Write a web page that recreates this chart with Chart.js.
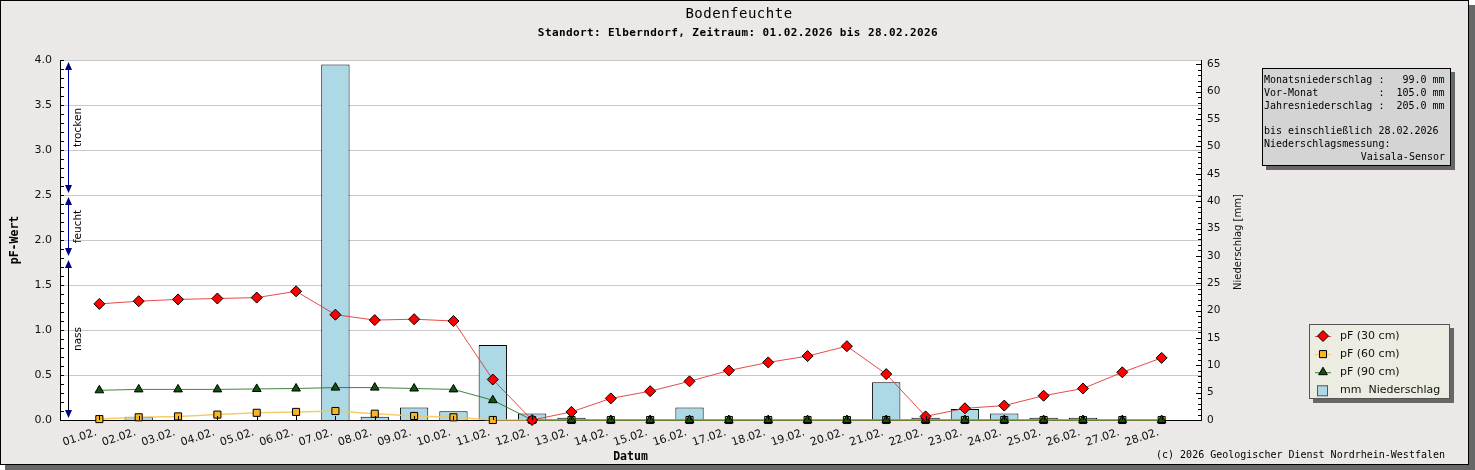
<!DOCTYPE html>
<html lang="de">
<head>
<meta charset="utf-8">
<title>Bodenfeuchte</title>
<script src="https://cdn.jsdelivr.net/npm/chart.js@4.4.1/dist/chart.umd.min.js"></script>
<style>
    html, body { margin: 0; padding: 0; background: #ffffff; }
    canvas { display: block; }
</style>
</head>
<body>
<canvas id="myChart" width="1475" height="470"></canvas>
<script>
//Daten
const tage = ['01.02.', '02.02.', '03.02.', '04.02.', '05.02.', '06.02.', '07.02.', '08.02.', '09.02.', '10.02.',
    '11.02.', '12.02.', '13.02.', '14.02.', '15.02.', '16.02.', '17.02.', '18.02.', '19.02.', '20.02.',
    '21.02.', '22.02.', '23.02.', '24.02.', '25.02.', '26.02.', '27.02.', '28.02.'];
const pf30 = [1.29, 1.32, 1.34, 1.35, 1.36, 1.43, 1.17, 1.11, 1.12, 1.10, 0.45, 0.00, 0.09, 0.24, 0.32, 0.43, 0.55, 0.64,
    0.71, 0.82, 0.51, 0.04, 0.13, 0.16, 0.27, 0.35, 0.53, 0.69];
const pf60 = [0.01, 0.03, 0.04, 0.06, 0.08, 0.09, 0.10, 0.07, 0.045, 0.03, 0.00, 0, 0, 0, 0, 0, 0, 0,
    0, 0, 0, 0, 0, 0, 0, 0, 0, 0];
const pf90 = [0.33, 0.34, 0.34, 0.34, 0.345, 0.35, 0.36, 0.36, 0.35, 0.34, 0.22, 0, 0, 0, 0, 0, 0, 0,
    0, 0, 0, 0, 0, 0, 0, 0, 0, 0];
const niederschlag = [0, 0.6, 0, 0, 0, 0, 65.0, 0.6, 2.3, 1.6, 13.7, 1.2, 0.4, 0, 0, 2.3, 0, 0,
    0, 0, 6.9, 0.4, 2.0, 1.2, 0.4, 0.4, 0, 0];
const pfTicks = [0, 0.5, 1.0, 1.5, 2.0, 2.5, 3.0, 3.5, 4.0];
const mmTicks = [0, 5, 10, 15, 20, 25, 30, 35, 40, 45, 50, 55, 60, 65];
const pfBereiche = [
    { name: 'trocken', von: 2.5, bis: 4.0, farbe: '#0000a8' },
    { name: 'feucht', von: 1.8, bis: 2.5, farbe: '#0000a8' },
    { name: 'nass', von: 0.0, bis: 1.8, farbe: '#000000' }
];
const infoZeilen = [
    'Monatsniederschlag :   99.0 mm',
    'Vor-Monat          :  105.0 mm',
    'Jahresniederschlag :  205.0 mm',
    '',
    'bis einschließlich 28.02.2026',
    'Niederschlagsmessung:'
];
const infoSensor = 'Vaisala-Sensor';
const titel = 'Bodenfeuchte';
const untertitel = 'Standort: Elberndorf, Zeitraum: 01.02.2026 bis 28.02.2026';
const copyright = '(c) 2026 Geologischer Dienst Nordrhein-Westfalen';

const mono = '"DejaVu Sans Mono", monospace';
Chart.defaults.font.family = '"DejaVu Sans", sans-serif';
Chart.defaults.color = '#111';

function punkte(werte) {
    return werte.map((w, i) => ({ x: i + 1, y: w }));
}

//Rahmen, Texte, Legende usw.
const rahmenPlugin = {
    id: 'rahmen',
    beforeDraw(chart) {
        const c = chart.ctx;
        const a = chart.chartArea;
        c.save();
        c.fillStyle = '#ffffff';
        c.fillRect(0, 0, chart.width, chart.height);
        c.fillStyle = '#676767';
        c.fillRect(5, 5, chart.width - 5, chart.height - 5);
        c.fillStyle = '#ebe8e7';
        c.fillRect(0, 0, 1469, 465);
        c.strokeStyle = '#000';
        c.lineWidth = 1;
        c.strokeRect(0.5, 0.5, 1468, 464);
        c.fillStyle = '#ffffff';
        c.fillRect(a.left, a.top, a.right - a.left, a.bottom - a.top);
        c.restore();
    },
    afterDraw(chart) {
        const c = chart.ctx;
        const a = chart.chartArea;
        const y = chart.scales.y;
        const y2 = chart.scales.y2;
        const x = chart.scales.x;
        c.save();

        // Titel
        c.fillStyle = '#000';
        c.textAlign = 'center';
        c.textBaseline = 'middle';
        c.font = '14px ' + mono;
        c.letterSpacing = '0.5px';
        c.fillText(titel, 739, 14);
        c.font = 'bold 11px ' + mono;
        c.letterSpacing = '0.4px';
        c.fillText(untertitel, 738, 33);
        c.letterSpacing = '0px';

        // Copyright
        c.font = '10px ' + mono;
        c.textAlign = 'right';
        c.fillText(copyright, 1445, 455);

        // kleine Striche an den Achsen
        c.strokeStyle = '#000';
        c.lineWidth = 1;
        c.beginPath();
        for (let i = 0; i <= 40; i++) {
            const py = Math.round(y.getPixelForValue(i / 10)) + 0.5;
            c.moveTo(a.left, py);
            c.lineTo(a.left + 4, py);
        }
        for (let i = 0; i <= 65; i++) {
            const py = Math.round(y2.getPixelForValue(i)) + 0.5;
            c.moveTo(a.right, py);
            c.lineTo(a.right - (i % 5 === 0 ? 5 : 3), py);
        }
        for (let i = 1; i <= tage.length; i++) {
            const px = Math.round(x.getPixelForValue(i)) + 0.5;
            c.moveTo(px, a.bottom);
            c.lineTo(px, a.bottom - 4);
        }
        c.stroke();

        // pF-Bereiche (trocken / feucht / nass)
        const ax = 68.5;
        pfBereiche.forEach(b => {
            const yo = y.getPixelForValue(b.bis) + 2;
            const yu = y.getPixelForValue(b.von) - 2;
            c.strokeStyle = b.farbe;
            c.beginPath();
            c.moveTo(ax, yo + 4);
            c.lineTo(ax, yu - 4);
            c.stroke();
            c.fillStyle = '#000080';
            c.beginPath();
            c.moveTo(ax, yo);
            c.lineTo(ax - 3.5, yo + 8);
            c.lineTo(ax + 3.5, yo + 8);
            c.closePath();
            c.fill();
            c.beginPath();
            c.moveTo(ax, yu);
            c.lineTo(ax - 3.5, yu - 8);
            c.lineTo(ax + 3.5, yu - 8);
            c.closePath();
            c.fill();
            c.save();
            c.translate(80.5, (yo + yu) / 2);
            c.rotate(-Math.PI / 2);
            c.fillStyle = '#000';
            c.font = '10.5px "DejaVu Sans"';
            c.textAlign = 'center';
            c.textBaseline = 'alphabetic';
            c.fillText(b.name, 0, 0);
            c.restore();
        });

        // Titel rechte Achse
        c.save();
        c.translate(1238, 242);
        c.rotate(-Math.PI / 2);
        c.fillStyle = '#111';
        c.font = '10px "DejaVu Sans"';
        c.textAlign = 'center';
        c.textBaseline = 'middle';
        c.fillText('Niederschlag [mm]', 0, 0);
        c.restore();

        // Infokasten
        c.fillStyle = '#676767';
        c.fillRect(1266, 72, 189, 98);
        c.fillStyle = '#d4d4d4';
        c.fillRect(1262, 68, 189, 98);
        c.strokeStyle = '#000';
        c.strokeRect(1262.5, 68.5, 188, 97);
        c.fillStyle = '#000';
        c.font = '10px ' + mono;
        c.textAlign = 'left';
        c.textBaseline = 'middle';
        infoZeilen.forEach((z, i) => c.fillText(z, 1264, 80.5 + i * 12.8));
        c.textAlign = 'right';
        c.fillText(infoSensor, 1445, 80.5 + 6 * 12.8);

        // Legende
        c.fillStyle = '#676767';
        c.fillRect(1313, 328, 141, 75);
        c.fillStyle = '#edece2';
        c.fillRect(1309, 324, 141, 75);
        c.strokeStyle = '#555';
        c.strokeRect(1309.5, 324.5, 140, 74);
        c.font = '11px "DejaVu Sans"';
        c.textAlign = 'left';
        c.textBaseline = 'middle';
        chart.data.datasets.forEach((ds, r) => {
            const ly = 336 + r * 18.1;
            if (ds.type === 'line') {
                c.strokeStyle = ds.borderColor;
                c.lineWidth = 1;
                c.beginPath();
                c.moveTo(1315, ly + 0.5);
                c.lineTo(1331, ly + 0.5);
                c.stroke();
                c.strokeStyle = '#000';
                c.fillStyle = ds.pointBackgroundColor;
                Chart.helpers.drawPoint(c, { pointStyle: ds.pointStyle, radius: ds.pointRadius, borderWidth: 1 }, 1323, ly);
            } else {
                c.fillStyle = ds.backgroundColor;
                c.fillRect(1317, ly - 5, 11, 11);
                c.strokeStyle = '#555';
                c.strokeRect(1317.5, ly - 4.5, 10, 10);
            }
            c.fillStyle = '#111';
            c.fillText(ds.label, 1340, ly);
        });
        c.restore();
    }
};

const ctx = document.getElementById('myChart').getContext('2d');
const myChart = new Chart(ctx, {
    type: 'bar',
    data: {
        datasets: [
            {
                type: 'line',
                label: 'pF (30 cm)',
                data: punkte(pf30),
                yAxisID: 'y',
                borderColor: 'rgba(225,45,45,0.85)',
                borderWidth: 1,
                pointStyle: 'rectRot',
                pointRadius: 5.5,
                pointBackgroundColor: '#ff0000',
                pointBorderColor: '#000',
                pointBorderWidth: 1,
                tension: 0,
                clip: false,
                order: 1
            },
            {
                type: 'line',
                label: 'pF (60 cm)',
                data: punkte(pf60),
                yAxisID: 'y',
                borderColor: 'rgba(245,200,90,0.9)',
                borderWidth: 1.5,
                pointStyle: 'rect',
                pointRadius: 5,
                pointBackgroundColor: '#f8b526',
                pointBorderColor: '#000',
                pointBorderWidth: 1,
                tension: 0,
                clip: false,
                order: 3
            },
            {
                type: 'line',
                label: 'pF (90 cm)',
                data: punkte(pf90),
                yAxisID: 'y',
                borderColor: 'rgba(30,110,30,0.85)',
                borderWidth: 1,
                pointStyle: 'triangle',
                pointRadius: 5,
                pointBackgroundColor: '#0c560c',
                pointBorderColor: '#000',
                pointBorderWidth: 1,
                tension: 0,
                clip: false,
                order: 2
            },
            {
                type: 'bar',
                label: 'mm  Niederschlag',
                data: punkte(niederschlag),
                yAxisID: 'y2',
                backgroundColor: '#add8e6',
                borderColor: '#000',
                borderWidth: 1,
                order: 10
            }
        ]
    },
    options: {
        responsive: false,
        animation: false,
        devicePixelRatio: 1,
        layout: {
            padding: { top: 60, left: 0, right: 214, bottom: 0 }
        },
        plugins: {
            legend: { display: false },
            tooltip: { enabled: false }
        },
        scales: {
            x: {
                type: 'linear',
                min: 0,
                max: 29,
                offset: false,
                grid: { display: false, drawTicks: false },
                border: { color: '#000', width: 1 },
                ticks: {
                    stepSize: 1,
                    autoSkip: false,
                    maxRotation: 18,
                    minRotation: 18,
                    padding: 6,
                    labelOffset: -3,
                    font: { size: 11 },
                    color: '#111',
                    callback: v => tage[v - 1] || ''
                },
                title: {
                    display: true,
                    text: 'Datum',
                    color: '#000',
                    font: { family: mono, size: 11.5, weight: 'bold' },
                    padding: { top: 0, bottom: 6 }
                },
                afterFit: scale => { scale.height = 50; }
            },
            y: {
                position: 'left',
                min: 0,
                max: 4,
                grid: { color: '#c8c8c8', drawTicks: false },
                border: { color: '#000', width: 1 },
                ticks: {
                    padding: 8,
                    font: { size: 11 },
                    color: '#111',
                    callback: v => v.toFixed(1)
                },
                afterBuildTicks: scale => { scale.ticks = pfTicks.map(v => ({ value: v })); },
                title: {
                    display: true,
                    text: 'pF-Wert',
                    color: '#000',
                    font: { family: mono, size: 11.5, weight: 'bold' },
                    padding: { top: 8, bottom: 0 }
                },
                afterFit: scale => { scale.width = 60; }
            },
            y2: {
                position: 'right',
                min: 0,
                max: 65.8,
                grid: { display: false, drawTicks: false },
                border: { color: '#000', width: 1 },
                ticks: {
                    padding: 6,
                    font: { size: 10.5 },
                    color: '#111'
                },
                afterBuildTicks: scale => { scale.ticks = mmTicks.map(v => ({ value: v })); },
                afterFit: scale => { scale.width = 60; }
            }
        }
    },
    plugins: [rahmenPlugin]
});
</script>
</body>
</html>
